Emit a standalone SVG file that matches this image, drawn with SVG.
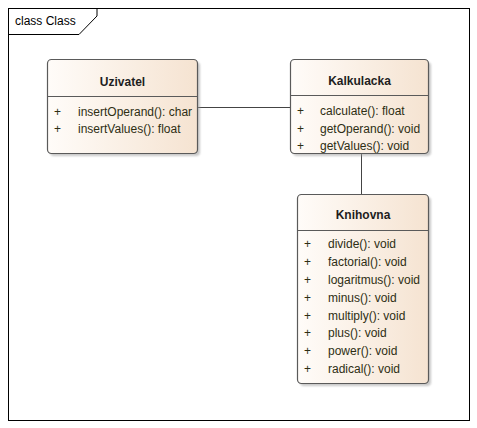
<svg xmlns="http://www.w3.org/2000/svg" width="477" height="428" viewBox="0 0 477 428">
<style>
.frame{fill:none;stroke:#000;stroke-width:1}
.box{fill:url(#g);stroke:#5a5a5a;stroke-width:1.2}
.shadow{fill:#9a9a9a;opacity:0.55}
.div{stroke:#5a5a5a;stroke-width:1}
.title{font-family:"Liberation Sans",Arial,sans-serif;font-size:12px;font-weight:bold;fill:#1e1e1e;text-anchor:middle}
.t{font-family:"Liberation Sans",Arial,sans-serif;font-size:12px;fill:#2e2e14}
.lbl{font-family:"Liberation Sans",Arial,sans-serif;font-size:12px;fill:#000}
.conn{fill:none;stroke:#444;stroke-width:1}
</style>
<defs>
<linearGradient id="g" x1="0" y1="0" x2="1" y2="0">
<stop offset="0" stop-color="#fffcf9"/>
<stop offset="1" stop-color="#f5e3d1"/>
</linearGradient>
<filter id="blur" x="-10%" y="-10%" width="120%" height="120%"><feGaussianBlur stdDeviation="1"/></filter>
</defs>
<rect x="0" y="0" width="477" height="428" fill="#fff"/>
<g id="frame">
<rect class="frame" x="8.5" y="8.5" width="461" height="412"/>
<path class="frame" d="M8.5,34.5 H79 L97,16 V8.5"/>
<text class="lbl" x="15" y="25">class Class</text>
</g>
<g id="connectors">
<path class="conn" d="M197,107.5 H290"/>
<path class="conn" d="M361.5,153 V194"/>
</g>
<g id="Uzivatel">
<rect class="shadow" x="50" y="62" width="150" height="94" rx="4" filter="url(#blur)"/>
<rect class="box" x="47.5" y="59.5" width="150" height="94" rx="4"/>
<line class="div" x1="47.5" y1="96.5" x2="197.5" y2="96.5"/>
<text class="title" x="122.5" y="86">Uzivatel</text>
<text class="t" x="54" y="116">+</text><text class="t" x="78" y="116">insertOperand(): char</text>
<text class="t" x="54" y="133">+</text><text class="t" x="78" y="133">insertValues(): float</text>
</g>
<g id="Kalkulacka">
<rect class="shadow" x="293" y="62" width="138" height="94" rx="4" filter="url(#blur)"/>
<rect class="box" x="290.5" y="59.5" width="138" height="94" rx="4"/>
<line class="div" x1="290.5" y1="95.5" x2="428.5" y2="95.5"/>
<text class="title" x="359.5" y="85">Kalkulacka</text>
<text class="t" x="297" y="115">+</text><text class="t" x="320" y="115">calculate(): float</text>
<text class="t" x="297" y="133">+</text><text class="t" x="320" y="133">getOperand(): void</text>
<text class="t" x="297" y="150">+</text><text class="t" x="320" y="150">getValues(): void</text>
</g>
<g id="Knihovna">
<rect class="shadow" x="300" y="197" width="131" height="189" rx="4" filter="url(#blur)"/>
<rect class="box" x="297.5" y="194.5" width="131" height="189" rx="4"/>
<line class="div" x1="297.5" y1="230.5" x2="428.5" y2="230.5"/>
<text class="title" x="363" y="219">Knihovna</text>
<text class="t" x="304" y="248">+</text><text class="t" x="328" y="248">divide(): void</text>
<text class="t" x="304" y="266">+</text><text class="t" x="328" y="266">factorial(): void</text>
<text class="t" x="304" y="284">+</text><text class="t" x="328" y="284">logaritmus(): void</text>
<text class="t" x="304" y="302">+</text><text class="t" x="328" y="302">minus(): void</text>
<text class="t" x="304" y="320">+</text><text class="t" x="328" y="320">multiply(): void</text>
<text class="t" x="304" y="337">+</text><text class="t" x="328" y="337">plus(): void</text>
<text class="t" x="304" y="355">+</text><text class="t" x="328" y="355">power(): void</text>
<text class="t" x="304" y="373">+</text><text class="t" x="328" y="373">radical(): void</text>
</g>
</svg>
